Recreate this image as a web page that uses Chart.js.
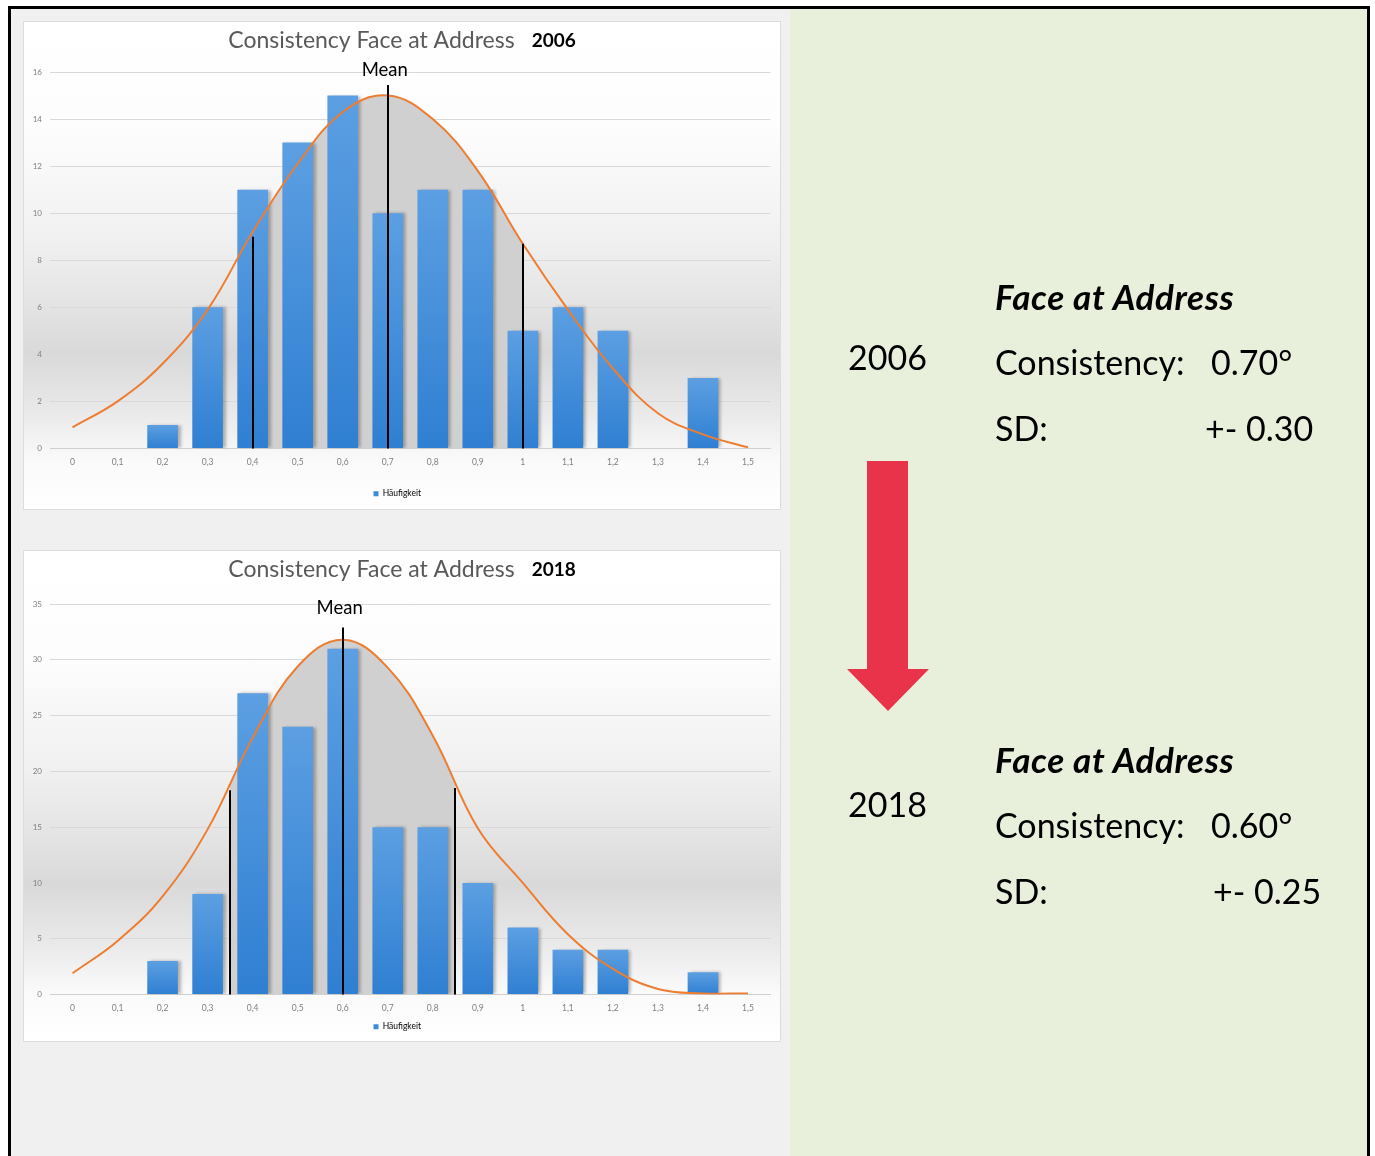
<!DOCTYPE html>
<html>
<head>
<meta charset="utf-8">
<script src="https://cdn.jsdelivr.net/npm/chart.js@4.4.0/dist/chart.umd.min.js"></script>
<style>
  body { margin: 0; background: #fff; font-family: Lato, "Open Sans", sans-serif; }
  #frame { position: absolute; left: 8px; top: 6px; width: 1356px; height: 1160px;
           border: 3px solid #000; border-bottom: none; background: #f0f0f0; }
  #green { position: absolute; left: 779px; top: 0; width: 577px; height: 100%; background: #e8f0dc; }
  .box { position: absolute; left: 24px; width: 756px; box-shadow: 0 0 0 1px #dcdcdc;
         background: linear-gradient(to bottom, #ffffff 0%, #fdfdfd 22%, #f0f0f0 45%, #e2e2e2 60%, #d9d9d9 68%, #e9e9e9 80%, #fafafa 90%, #ffffff 100%); }
  .t { position: absolute; font-size: 34px; line-height: 40px; color: #000; white-space: nowrap; }
  .b { font-weight: bold; font-style: italic; font-size: 35px; letter-spacing: 0.6px; }
</style>
</head>
<body>
<div id="frame"><div id="green"></div></div>

<div class="box" style="top:22px;height:487px;"><canvas id="c2006"></canvas></div>
<div class="box" style="top:551px;height:490px;"><canvas id="c2018"></canvas></div>

<svg style="position:absolute;left:0;top:0" width="1375" height="1156">
  <polygon points="867,461 908,461 908,669 929,669 888,711 847,669 867,669" fill="#e8334a"/>
</svg>

<div class="t" style="left:848px;top:337px;">2006</div>
<div class="t b" style="left:995px;top:276px;">Face at Address</div>
<div class="t" style="left:995px;top:342px;">Consistency:</div>
<div class="t" style="left:1211px;top:342px;">0.70°</div>
<div class="t" style="left:995px;top:408px;">SD:</div>
<div class="t" style="left:1205px;top:408px;">+- 0.30</div>

<div class="t" style="left:848px;top:784px;">2018</div>
<div class="t b" style="left:995px;top:739px;">Face at Address</div>
<div class="t" style="left:995px;top:805px;">Consistency:</div>
<div class="t" style="left:1211px;top:805px;">0.60°</div>
<div class="t" style="left:995px;top:871px;">SD:</div>
<div class="t" style="left:1213px;top:871px;">+- 0.25</div>

<script>
// histogram bins (degrees)
const bins = [0, 0.1, 0.2, 0.3, 0.4, 0.5, 0.6, 0.7, 0.8, 0.9, 1, 1.1, 1.2, 1.3, 1.4, 1.5];

// 2006
const counts2006 = [0, 0, 1, 6, 11, 13, 15, 10, 11, 11, 5, 6, 5, 0, 3, 0];
const curve2006 = [0.9, 2.0, 3.6, 5.9, 9.2, 12.1, 14.3, 15.0, 14.0, 11.8, 8.7, 5.9, 3.4, 1.5, 0.6, 0.05];
const mean2006 = 0.70;
const sd2006 = 0.30;
const markTops2006 = [9.0, 15.45, 8.7]; // -SD, mean, +SD line ends

// 2018
const counts2018 = [0, 0, 3, 9, 27, 24, 31, 15, 15, 10, 6, 4, 4, 0, 2, 0];
const curve2018 = [1.9, 4.8, 8.8, 14.8, 23.0, 29.4, 31.8, 29.3, 23.2, 14.9, 10.0, 5.4, 2.3, 0.5, 0.1, 0.1];
const mean2018 = 0.60;
const sd2018 = 0.25;
const markTops2018 = [18.3, 32.9, 18.5];

const legendLabel = "Häufigkeit";
const titleText = "Consistency Face at Address";

// fractional category index for a value in degrees
function binIndex(v) {
  for (let i = 0; i < bins.length - 1; i++) {
    if (v >= bins[i] && v <= bins[i + 1]) return i + (v - bins[i]) / (bins[i + 1] - bins[i]);
  }
  return bins.length - 1;
}

const barShadow = {
  id: "barShadow",
  beforeDatasetDraw(chart, args) {
    if (args.meta.type !== "bar") return;
    const ctx = chart.ctx;
    ctx.save();
    ctx.shadowColor = "rgba(0,0,0,0.28)";
    ctx.shadowOffsetX = 3;
    ctx.shadowBlur = 3;
  },
  afterDatasetDraw(chart, args) {
    if (args.meta.type === "bar") chart.ctx.restore();
  }
};

function makeChart(id, year, counts, curve, mean, sd, tops, o) {
  const lo = binIndex(mean - sd), hi = binIndex(mean + sd), mid = binIndex(mean);

  const decor = {
    id: "decor",
    afterDatasetsDraw(chart) {
      const ctx = chart.ctx, xs = chart.scales.x, ys = chart.scales.y;
      const y0 = ys.getPixelForValue(0);
      ctx.save();
      ctx.strokeStyle = "#000";
      ctx.lineWidth = 2;
      [lo, mid, hi].forEach((ix, k) => {
        const x = Math.round(xs.getPixelForValue(ix));
        ctx.beginPath();
        ctx.moveTo(x, y0);
        ctx.lineTo(x, ys.getPixelForValue(tops[k]));
        ctx.stroke();
      });
      // Mean label
      ctx.fillStyle = "#000";
      ctx.font = "18.5px Lato";
      ctx.textAlign = "center";
      ctx.textBaseline = "bottom";
      ctx.fillText("Mean", xs.getPixelForValue(mid) - 3, ys.getPixelForValue(tops[1]) - o.meanGap);
      ctx.restore();
    },
    afterDraw(chart) {
      const ctx = chart.ctx;
      ctx.save();
      ctx.textBaseline = "middle";
      ctx.textAlign = "left";
      ctx.font = "23px Lato";
      const w1 = ctx.measureText(titleText).width;
      ctx.font = "bold 19px Lato";
      const w2 = ctx.measureText(String(year)).width;
      const gap = 17;
      let x = chart.width / 2 - (w1 + gap + w2) / 2;
      ctx.font = "23px Lato";
      ctx.fillStyle = "#595959";
      ctx.fillText(titleText, x, 19);
      ctx.font = "bold 19px Lato";
      ctx.fillStyle = "#000";
      ctx.fillText(String(year), x + w1 + gap, 19);
      ctx.restore();
    }
  };

  return new Chart(document.getElementById(id).getContext("2d"), {
    type: "bar",
    plugins: [barShadow, decor],
    data: {
      labels: bins,
      datasets: [
        {
          type: "line",
          label: "Normal",
          data: curve,
          borderColor: "#ed7d31",
          borderWidth: 2,
          pointRadius: 0,
          tension: 0.4,
          fill: "origin",
          backgroundColor: (c) => {
            const ch = c.chart, a = ch.chartArea;
            if (!a || !ch.scales.x) return "rgba(0,0,0,0)";
            const xs = ch.scales.x;
            const w = a.right - a.left;
            const f0 = Math.min(Math.max((xs.getPixelForValue(lo) - a.left) / w, 0), 1);
            const f1 = Math.min(Math.max((xs.getPixelForValue(hi) - a.left) / w, 0), 1);
            const g = ch.ctx.createLinearGradient(a.left, 0, a.right, 0);
            g.addColorStop(0, "rgba(0,0,0,0)");
            g.addColorStop(f0, "rgba(0,0,0,0)");
            g.addColorStop(f0, "#d0d0d0");
            g.addColorStop(f1, "#d0d0d0");
            g.addColorStop(f1, "rgba(0,0,0,0)");
            g.addColorStop(1, "rgba(0,0,0,0)");
            return g;
          }
        },
        {
          type: "bar",
          label: legendLabel,
          data: counts,
          barPercentage: 0.68,
          categoryPercentage: 1,
          backgroundColor: (c) => {
            const ch = c.chart;
            if (!ch.chartArea || !ch.scales.y || c.raw == null) return "#3f8ad8";
            const ys = ch.scales.y;
            const top = ys.getPixelForValue(c.raw), base = ys.getPixelForValue(0);
            const g = ch.ctx.createLinearGradient(0, top, 0, base === top ? top + 1 : base);
            g.addColorStop(0, "#5c9fe2");
            g.addColorStop(1, "#2f7fd2");
            return g;
          }
        }
      ]
    },
    options: {
      responsive: true,
      maintainAspectRatio: false,
      animation: false,
      layout: { padding: { top: o.padTop, right: 9.5, left: 0, bottom: o.padBottom } },
      plugins: {
        filler: { drawTime: "beforeDatasetsDraw" },
        tooltip: { enabled: false },
        title: { display: false },
        legend: {
          position: "bottom",
          labels: {
            boxWidth: 5,
            boxHeight: 5,
            padding: 10,
            color: "#595959",
            font: { size: 8.5, family: "Lato" },
            generateLabels: (chart) => [{
              text: chart.data.datasets[1].label,
              fillStyle: "#3f8ad8",
              strokeStyle: "#3f8ad8",
              lineWidth: 0,
              hidden: false,
              datasetIndex: 1
            }]
          }
        }
      },
      scales: {
        x: {
          grid: { display: false, drawTicks: false },
          border: { display: true, color: "#d0d0d0" },
          ticks: {
            padding: 9,
            color: "#7f7f7f",
            font: { size: 8.5, family: "Lato" },
            maxRotation: 0,
            autoSkip: false,
            callback: (v) => String(bins[v]).replace(".", ",")
          },
          afterFit: (s) => { s.height = o.xHeight; }
        },
        y: {
          min: 0,
          max: o.yMax,
          grid: { color: "#d9d9d9", drawTicks: false },
          border: { display: false },
          ticks: {
            stepSize: o.yStep,
            padding: 8,
            color: "#7f7f7f",
            font: { size: 8, family: "Lato" }
          },
          afterFit: (s) => { s.width = 26; }
        }
      }
    }
  });
}

makeChart("c2006", 2006, counts2006, curve2006, mean2006, sd2006, markTops2006,
  { yMax: 16, yStep: 2, padTop: 50, padBottom: 1, xHeight: 31, meanGap: 6 });
makeChart("c2018", 2018, counts2018, curve2018, mean2018, sd2018, markTops2018,
  { yMax: 35, yStep: 5, padTop: 53, padBottom: 0, xHeight: 18, meanGap: 10 });
</script>
</body>
</html>
